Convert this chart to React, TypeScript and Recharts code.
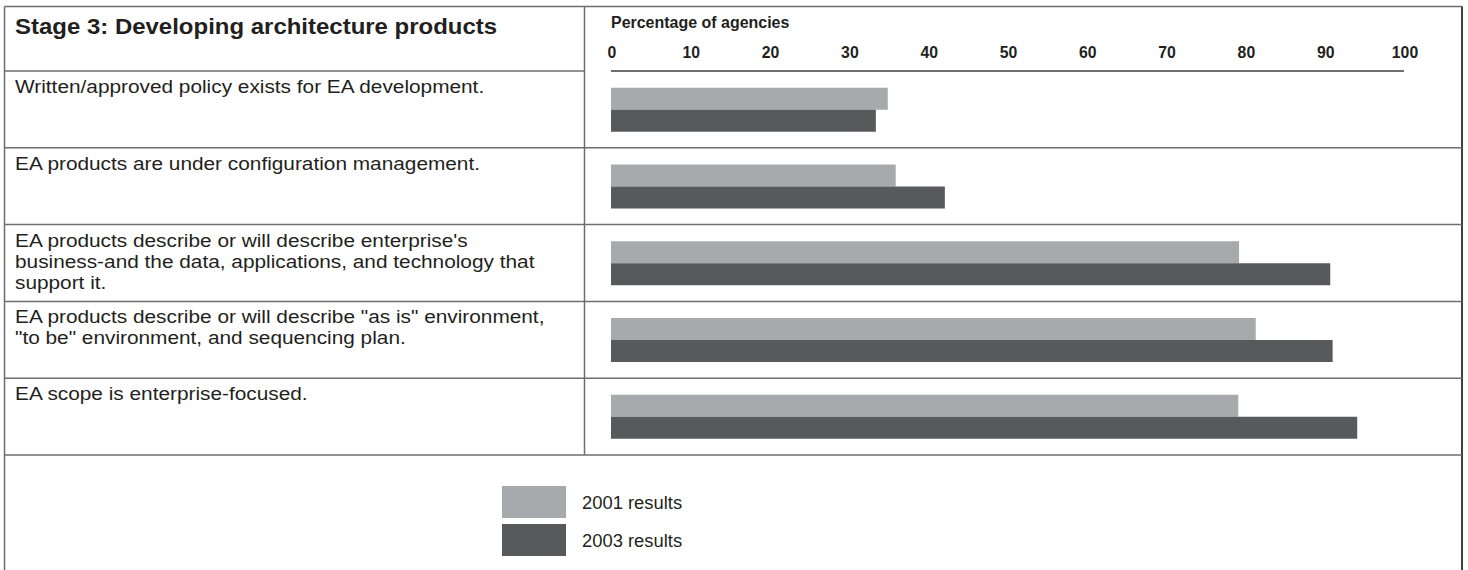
import React from "react";
import { Bar, BarChart, Customized, XAxis, YAxis } from "recharts";

const categories = [
  "Written/approved policy exists for EA development.",
  "EA products are under configuration management.",
  "EA products describe or will describe enterprise's\nbusiness-and the data, applications, and technology that\nsupport it.",
  "EA products describe or will describe \"as is\" environment,\n\"to be\" environment, and sequencing plan.",
  "EA scope is enterprise-focused.",
];

const results2001 = [34.9, 35.9, 79.2, 81.3, 79.1];
const results2003 = [33.4, 42.1, 90.7, 91.0, 94.1];

const percentTicks = [0, 10, 20, 30, 40, 50, 60, 70, 80, 90, 100];

const seriesNames = ["2001 results", "2003 results"];
const seriesColors = ["#a7a9ac", "#58595b"];

const data = categories.map((name, i) => ({
  name,
  r2001: results2001[i],
  r2003: results2003[i],
}));

// page / table layout
const W = 1468;
const H = 570;
const PLOT_TOP = 71;
const PLOT_BOTTOM = 455;
const PLOT_LEFT = 611;
const PLOT_RIGHT = 1404;
const BORDER_L = 4.5;
const BORDER_R = 1462;
const BORDER_T = 6.5;
const DIVIDER = 584.5;

const FONT = "'Liberation Sans', Arial, Helvetica, sans-serif";
const INK = "#231f20";
const RULE = "#6d6e71";

// narrow bold numbers above the axis line
const PercentTick = (props: any) => {
  const { x, y, payload } = props;
  return (
    <g transform={`translate(${x + 1} ${y}) scale(0.93 1)`}>
      <text textAnchor="middle" fontFamily={FONT} fontSize={17} fontWeight="bold" fill={INK}>
        {payload.value}
      </text>
    </g>
  );
};

const RowLabel = (props: any) => {
  const { y, payload, index } = props;
  const half =
    typeof payload.offset === "number" && payload.offset > 0
      ? payload.offset
      : (PLOT_BOTTOM - PLOT_TOP) / categories.length / 2;
  const top = y - half;
  const lines = String(payload.value).split("\n");
  return (
    <g>
      {index === 0 && (
        <line x1={BORDER_L} x2={DIVIDER} y1={top} y2={top} stroke={RULE} strokeWidth={1.5} />
      )}
      <line x1={BORDER_L} x2={BORDER_R} y1={y + half} y2={y + half} stroke={RULE} strokeWidth={1.5} />
      <g transform={`translate(15 ${top + 22}) scale(1.19 1)`}>
        <text fontFamily={FONT} fontSize={17.5} fill={INK}>
          {lines.map((l, i) => (
            <tspan key={i} x={0} dy={i === 0 ? 0 : 21}>
              {l}
            </tspan>
          ))}
        </text>
      </g>
    </g>
  );
};

const Frame = () => (
  <g>
    <line x1={BORDER_L} x2={BORDER_R} y1={BORDER_T} y2={BORDER_T} stroke={RULE} strokeWidth={1.5} />
    <line x1={BORDER_L} x2={BORDER_L} y1={BORDER_T} y2={H} stroke={RULE} strokeWidth={1.5} />
    <line x1={BORDER_R} x2={BORDER_R} y1={BORDER_T} y2={H} stroke="#3f3f41" strokeWidth={2} />
    <line x1={DIVIDER} x2={DIVIDER} y1={BORDER_T} y2={PLOT_BOTTOM} stroke={RULE} strokeWidth={1.5} />
    <g transform="translate(15 33.5) scale(1.09 1)">
      <text fontFamily={FONT} fontSize={22} fontWeight="bold" fill={INK}>
        Stage 3: Developing architecture products
      </text>
    </g>
    <g transform={`translate(${PLOT_LEFT} 28) scale(0.94 1)`}>
      <text fontFamily={FONT} fontSize={17} fontWeight="bold" fill={INK}>
        Percentage of agencies
      </text>
    </g>
    {seriesNames.map((name, i) => (
      <g key={name}>
        <rect x={502} y={486 + i * 38} width={64} height={32} fill={seriesColors[i]} />
        <g transform={`translate(582 ${509 + i * 38}) scale(1.05 1)`}>
          <text fontFamily={FONT} fontSize={17.5} fill={INK}>
            {name}
          </text>
        </g>
      </g>
    ))}
  </g>
);

export default function App() {
  return (
    <div style={{ width: W, height: H, background: "#fff" }}>
      <style>{"body{margin:0}"}</style>
      <BarChart
        width={W}
        height={H}
        data={data}
        layout="vertical"
        margin={{ top: PLOT_TOP - 30, right: W - PLOT_RIGHT, bottom: H - PLOT_BOTTOM, left: PLOT_LEFT - 600 }}
        barGap={0}
        barCategoryGap="21.7%"
      >
        <Customized component={<Frame />} />
        <XAxis
          type="number"
          orientation="top"
          domain={[0, 100]}
          ticks={percentTicks}
          height={30}
          tickSize={0}
          tickMargin={13}
          tickLine={false}
          axisLine={{ stroke: RULE, strokeWidth: 2 }}
          tick={<PercentTick />}
          interval={0}
        />
        <YAxis
          type="category"
          dataKey="name"
          width={600}
          axisLine={false}
          tickLine={false}
          tick={<RowLabel />}
          interval={0}
        />
        <Bar dataKey="r2001" name={seriesNames[0]} fill={seriesColors[0]} isAnimationActive={false} />
        <Bar dataKey="r2003" name={seriesNames[1]} fill={seriesColors[1]} isAnimationActive={false} />
      </BarChart>
    </div>
  );
}
